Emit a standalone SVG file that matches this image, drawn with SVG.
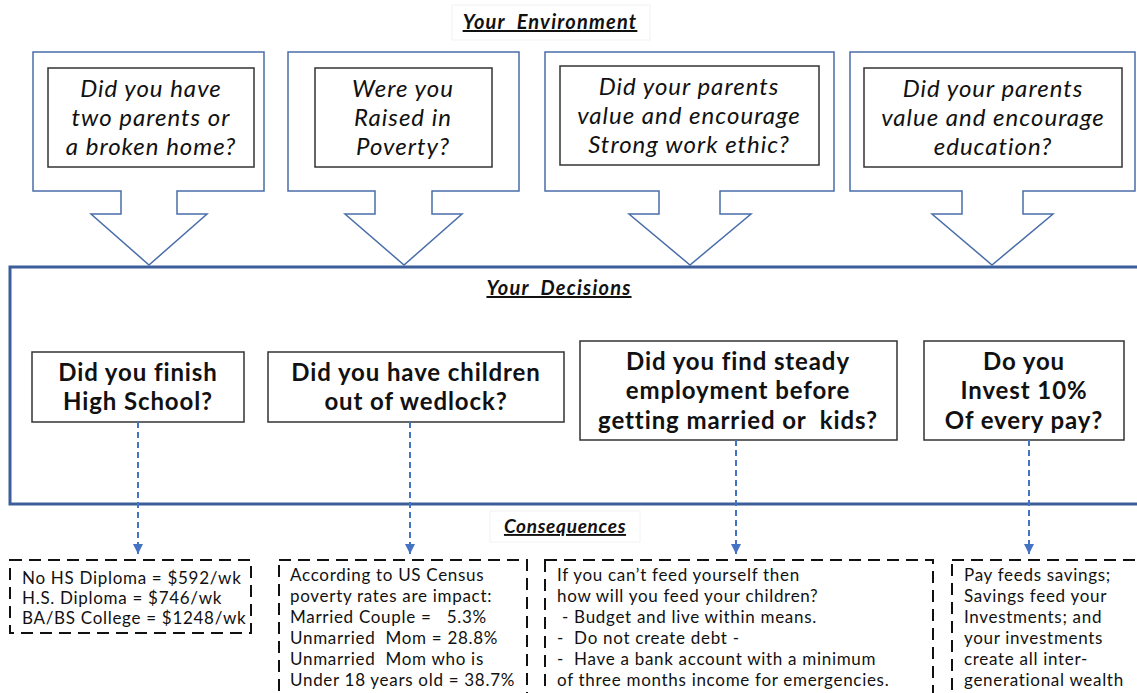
<svg xmlns="http://www.w3.org/2000/svg" width="1137" height="693" viewBox="0 0 1137 693">
<defs>
<style>
.callout{fill:#fff;stroke:#4a6ea8;stroke-width:1.5}
.inner{fill:#fff;stroke:#333;stroke-width:1.5}
.dbox{fill:#fff;stroke:#333;stroke-width:1.5}
.big{fill:none;stroke:#3c5f9c;stroke-width:3}
.title{font-family:Lato,"Open Sans",sans-serif;font-size:20px;letter-spacing:1.2px;font-weight:bold;font-style:italic;text-decoration:underline;fill:#111;text-anchor:middle;white-space:pre}
.q{font-family:Lato,"Open Sans",sans-serif;font-size:24px;letter-spacing:1px;font-style:italic;fill:#111;text-anchor:middle}
.d{font-family:Lato,"Open Sans",sans-serif;font-size:24px;letter-spacing:0.9px;font-weight:bold;fill:#111;text-anchor:middle;white-space:pre}
.c{font-family:Lato,"Open Sans",sans-serif;font-size:17px;letter-spacing:0.7px;fill:#111;white-space:pre}
.cbox{fill:#fff;stroke:#111;stroke-width:2;stroke-dasharray:12 7}
.conn{stroke:#4472c4;stroke-width:2;stroke-dasharray:6 4;fill:none}
</style>
<marker id="ah" viewBox="0 0 10 10" refX="10" refY="5" markerWidth="5" markerHeight="5" orient="auto" markerUnits="strokeWidth">
<path d="M0,0 L10,5 L0,10 z" fill="#4472c4"/>
</marker>
</defs>
<rect width="1137" height="693" fill="#fff"/>

<g id="title-env">
<rect x="452" y="5" width="198" height="35" fill="#fff" stroke="#f2f2f2"/>
<text class="title" x="550" y="29">Your  Environment</text>
</g>

<g id="env1">
<polygon class="callout" points="33,52 264,52 264,191 177,191 177,214 207,214 149,265 91,214 121,214 121,191 33,191"/>
<rect class="inner" x="48" y="68" width="206" height="99"/>
<text class="q" x="151" y="97">Did you have</text>
<text class="q" x="151" y="126">two parents or</text>
<text class="q" x="151" y="155">a broken home?</text>
</g>
<g id="env2">
<polygon class="callout" points="288,52 519,52 519,191 432,191 432,214 462,214 404,265 345,214 375,214 375,191 288,191"/>
<rect class="inner" x="315" y="68" width="177" height="99"/>
<text class="q" x="403" y="97">Were you</text>
<text class="q" x="403" y="126">Raised in</text>
<text class="q" x="403" y="155">Poverty?</text>
</g>
<g id="env3">
<polygon class="callout" points="545,52 834,52 834,191 720,191 720,214 751,214 690,265 629,214 659,214 659,191 545,191"/>
<rect class="inner" x="560" y="66" width="259" height="99"/>
<text class="q" x="689" y="95">Did your parents</text>
<text class="q" x="689" y="124">value and encourage</text>
<text class="q" x="689" y="153">Strong work ethic?</text>
</g>
<g id="env4">
<polygon class="callout" points="850,52 1135,52 1135,191 1023,191 1023,214 1053,214 992,265 932,214 962,214 962,191 850,191"/>
<rect class="inner" x="864" y="68" width="258" height="99"/>
<text class="q" x="993" y="97">Did your parents</text>
<text class="q" x="993" y="126">value and encourage</text>
<text class="q" x="993" y="155">education?</text>
</g>

<g id="decisions">
<rect class="big" x="10" y="267" width="1135" height="237"/>
<text class="title" x="559" y="295">Your  Decisions</text>
</g>

<g id="dec1">
<rect class="dbox" x="32" y="352" width="212" height="70"/>
<text class="d" x="138" y="381">Did you finish</text>
<text class="d" x="138" y="410">High School?</text>
</g>
<g id="dec2">
<rect class="dbox" x="268" y="352" width="296" height="70"/>
<text class="d" x="416" y="381">Did you have children</text>
<text class="d" x="416" y="410">out of wedlock?</text>
</g>
<g id="dec3">
<rect class="dbox" x="580" y="341" width="317" height="99"/>
<text class="d" x="738" y="370">Did you find steady</text>
<text class="d" x="738" y="399">employment before</text>
<text class="d" x="738" y="429">getting married or  kids?</text>
</g>
<g id="dec4">
<rect class="dbox" x="924" y="341" width="200" height="99"/>
<text class="d" x="1024" y="370">Do you</text>
<text class="d" x="1024" y="399">Invest 10%</text>
<text class="d" x="1024" y="429">Of every pay?</text>
</g>

<g id="connectors">
<line class="conn" x1="138" y1="422" x2="138" y2="554" marker-end="url(#ah)"/>
<line class="conn" x1="410" y1="422" x2="410" y2="554" marker-end="url(#ah)"/>
<line class="conn" x1="736" y1="440" x2="736" y2="554" marker-end="url(#ah)"/>
<line class="conn" x1="1029" y1="440" x2="1029" y2="554" marker-end="url(#ah)"/>
</g>

<g id="title-cons">
<rect x="490" y="511" width="150" height="31" fill="#fff" stroke="#f2f2f2"/>
<text class="title" x="565" y="533" style="font-size:19px;letter-spacing:0.7px">Consequences</text>
</g>

<g id="cons1">
<rect class="cbox" x="10" y="560" width="241" height="73"/>
<text class="c" x="22" y="584">No HS Diploma = $592/wk</text>
<text class="c" x="22" y="604">H.S. Diploma = $746/wk</text>
<text class="c" x="22" y="624">BA/BS College = $1248/wk</text>
</g>
<g id="cons2">
<rect class="cbox" x="279" y="560" width="248" height="150"/>
<text class="c" x="290" y="581">According to US Census</text>
<text class="c" x="290" y="602">poverty rates are impact:</text>
<text class="c" x="290" y="623">Married Couple =   5.3%</text>
<text class="c" x="290" y="644">Unmarried  Mom = 28.8%</text>
<text class="c" x="290" y="665">Unmarried  Mom who is</text>
<text class="c" x="290" y="686">Under 18 years old = 38.7%</text>
</g>
<g id="cons3">
<rect class="cbox" x="545" y="560" width="388" height="150"/>
<text class="c" x="557" y="581">If you can’t feed yourself then</text>
<text class="c" x="557" y="602">how will you feed your children?</text>
<text class="c" x="557" y="623"> - Budget and live within means.</text>
<text class="c" x="557" y="644">-  Do not create debt -</text>
<text class="c" x="557" y="665">-  Have a bank account with a minimum</text>
<text class="c" x="557" y="686">of three months income for emergencies.</text>
</g>
<g id="cons4">
<rect class="cbox" x="952" y="560" width="200" height="150"/>
<text class="c" x="964" y="581">Pay feeds savings;</text>
<text class="c" x="964" y="602">Savings feed your</text>
<text class="c" x="964" y="623">Investments; and</text>
<text class="c" x="964" y="644">your investments</text>
<text class="c" x="964" y="665">create all inter-</text>
<text class="c" x="964" y="686">generational wealth</text>
</g>
</svg>
